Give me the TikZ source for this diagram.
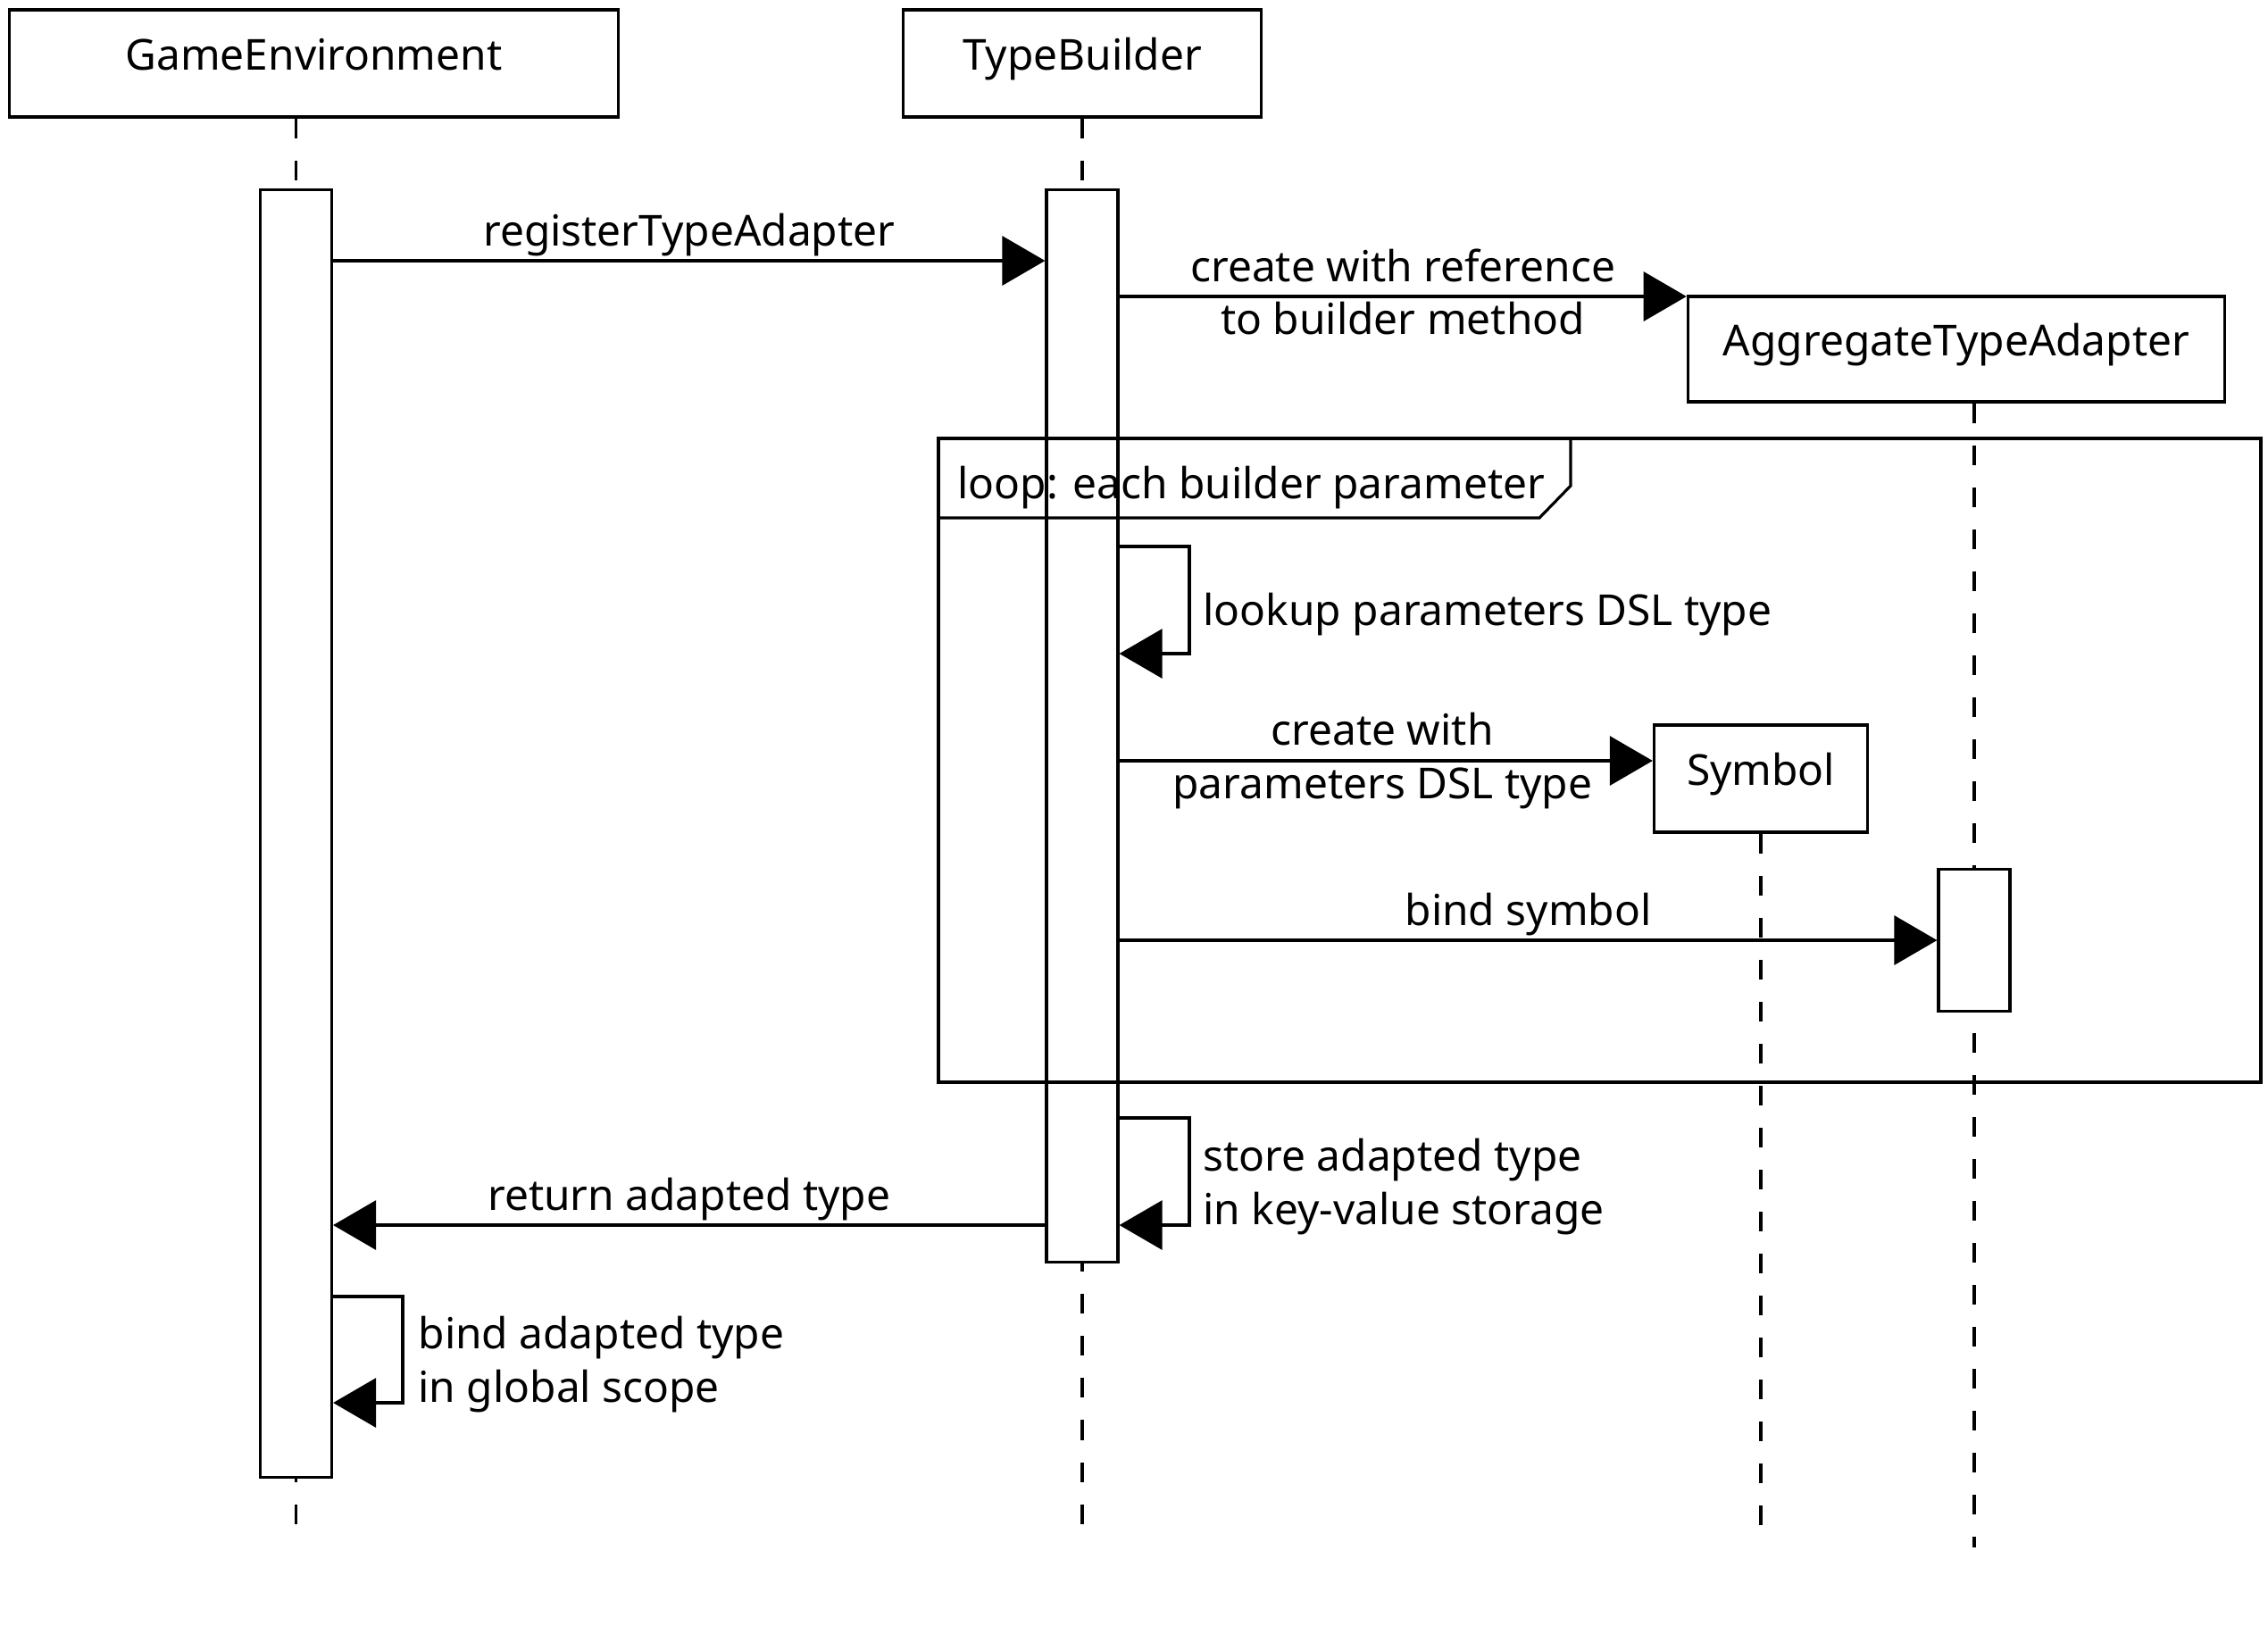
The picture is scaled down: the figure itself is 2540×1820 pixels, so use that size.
\documentclass[tikz,border=0pt]{standalone}
\usepackage{fontspec}
\setmainfont{Noto Sans}
\usetikzlibrary{arrows.meta}
\tikzset{
  head/.style={draw, fill=white, text height=9pt, text depth=5pt, inner sep=0pt, minimum height=1.2cm},
  bar/.style={draw, fill=white, minimum width=0.8cm, inner sep=0pt},
  life/.style={dash pattern=on 0.22cm off 0.25cm},
  msg/.style={-{Triangle[length=0.48cm, width=0.55cm]}},
  lbl/.style={align=center, inner sep=1pt},
  note/.style={align=left, anchor=west, inner sep=0pt},
}
\begin{document}
\begin{tikzpicture}[x=0.01cm, y=-0.01cm, line width=0.9pt, font=\fontsize{13.6}{17}\selectfont]
\useasboundingbox (0,0) rectangle (2540,1820);
% lifeline heads
\node[head, minimum width=6.81cm] (ge) at (351.5,71) {GameEnvironment};
\node[head, minimum width=4cm] (tb) at (1212,71) {TypeBuilder};
\node[head, minimum width=6.01cm, minimum height=1.18cm] (ata) at (2191,391) {AggregateTypeAdapter};
\node[head, minimum width=2.39cm] (sym) at (1972,872) {Symbol};
% lifelines
\coordinate (geend) at (331.5,1725);
\coordinate (tbend) at (1212,1725);
\coordinate (ataend) at (2211,1733);
\coordinate (symend) at (1972,1725);
\draw[life] (ge.south -| geend) -- (geend);
\draw[life] (tb.south -| tbend) -- (tbend);
\draw[life] (ata.south -| ataend) -- (ataend);
\draw[life] (sym.south -| symend) -- (symend);
% activations
\node[bar, minimum height=14.41cm, anchor=north] (gebar) at (331.5,211) {};
\node[bar, minimum height=12cm, anchor=north] (tbbar) at (1212,211) {};
\node[bar, minimum height=1.59cm, anchor=north] (atabar) at (2211,972) {};
% loop frame
\draw (1051,491) rectangle (2532,1212);
\draw (1051,580) -- (1724,580) -- (1759,544) -- (1759,491);
\node[anchor=west, inner sep=0pt] (looplbl) at (1071,546) {loop: each builder parameter};
% messages
\coordinate (m1) at (0,292);
\coordinate (m2) at (0,332);
\coordinate (m3) at (0,612);
\coordinate (m4) at (0,852);
\coordinate (m5) at (0,1053);
\coordinate (m6) at (0,1252);
\coordinate (m7) at (0,1372);
\coordinate (m8) at (0,1452);
\draw[msg] (gebar.east |- m1) -- (tbbar.west |- m1)
  node[lbl, midway, above] (l1) {registerTypeAdapter};
\draw[msg] (tbbar.east |- m2) -- (ata.west |- m2)
  node[lbl, midway, yshift=0.05cm] (l2) {create with reference\\to builder method};
\draw[msg] (tbbar.east |- m3) -| (1332,732) -- (tbbar.east |- 0,732);
\node[note] (l3) at (1346,688) {lookup parameters DSL type};
\draw[msg] (tbbar.east |- m4) -- (sym.west |- m4)
  node[lbl, midway, xshift=-0.04cm] (l4) {create with\\parameters DSL type};
\draw[msg] (tbbar.east |- m5) -- (atabar.west |- m5)
  node[lbl, midway, above] (l5) {bind symbol};
\draw[msg] (tbbar.east |- m6) -| (1332,1372) -- (tbbar.east |- m7);
\node[note] (l6) at (1346,1329) {store adapted type\\in key-value storage};
\draw[msg] (tbbar.west |- m7) -- (gebar.east |- m7)
  node[lbl, midway, above] (l7) {return adapted type};
\draw[msg] (gebar.east |- m8) -| (451,1571) -- (gebar.east |- 0,1571);
\node[note] (l8) at (467,1528) {bind adapted type\\in global scope};
\end{tikzpicture}
\end{document}
